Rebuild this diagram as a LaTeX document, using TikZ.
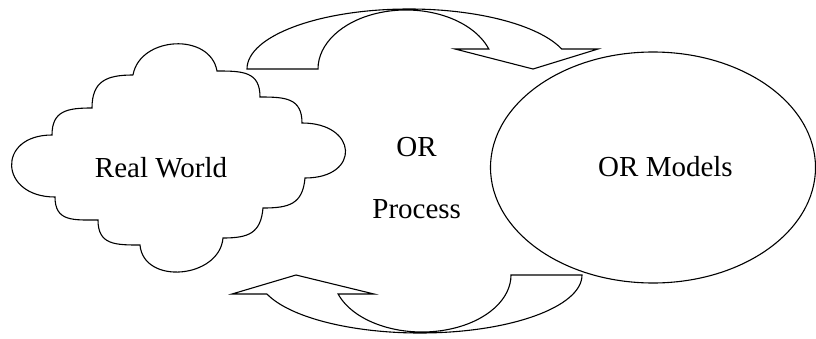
\documentclass[tikz,border=0pt]{standalone}
\usepackage{fontspec}
\setmainfont{Liberation Serif}
\usepackage{tikz}
\usetikzlibrary{calc}

\tikzset{
    forma/.style={draw, line width=1.1pt, line join=miter},
    testo/.style={font=\fontsize{29}{34}\selectfont, inner sep=0pt}
}

\begin{document}
\begin{tikzpicture}[x=1pt, y=1pt]
    \useasboundingbox (0,0) rectangle (816,338);

    % Nuvola
    \foreach \n/\x/\y in {1/133/263, 2/217/267, 3/260/241, 4/302/215, 5/305/160, 6/263/130,
                          7/223/100, 8/140/93, 9/98/118, 10/55/141, 11/52/203, 12/92/230} {
        \coordinate (c\n) at (\x,\y);
    }
    \draw[forma] (c1) to[out=80, in=100, looseness=1.2] (c2)
        to[out=0, in=90, looseness=1.3] (c3)
        to[out=0, in=90, looseness=1.3] (c4)
        to[out=0, in=0, looseness=2.6] (c5)
        to[out=-95, in=0, looseness=1.3] (c6)
        to[out=-95, in=0, looseness=1.3] (c7)
        to[out=-95, in=-85, looseness=1.25] (c8)
        to[out=180, in=-90, looseness=1.3] (c9)
        to[out=180, in=-90, looseness=1.3] (c10)
        to[out=180, in=180, looseness=2.3] (c11)
        to[out=90, in=180, looseness=1.3] (c12)
        to[out=90, in=180, looseness=1.3] (c1);

    % Ellisse
    \draw[forma] (653,170.5) ellipse[x radius=162.5, y radius=115.5];

    % Freccia superiore
    \draw[forma] (247,269) arc[start angle=180, end angle=19.47, x radius=162, y radius=60]
        -- (598,289) -- (533,269) -- (455,289) -- (488.8,289)
        arc[start angle=19.8, end angle=180, x radius=88, y radius=59] -- cycle;

    % Freccia inferiore
    \draw[forma] (582,63) arc[start angle=0, end angle=-160.9, x radius=162, y radius=58]
        -- (232,44) -- (296,63) -- (374,44) -- (338.1,44)
        arc[start angle=199.47, end angle=360, x radius=89, y radius=57] -- cycle;

    % Testi
    \node[testo, anchor=base] (reale) at (161,161) {Real World};
    \node[testo, anchor=base] (modelli) at (665.5,161.3) {OR Models};
    \node[testo, anchor=base] (or) at (416.5,181.3) {OR};
    \node[testo, anchor=base] (processo) at (416.7,120) {Process};
\end{tikzpicture}
\end{document}
